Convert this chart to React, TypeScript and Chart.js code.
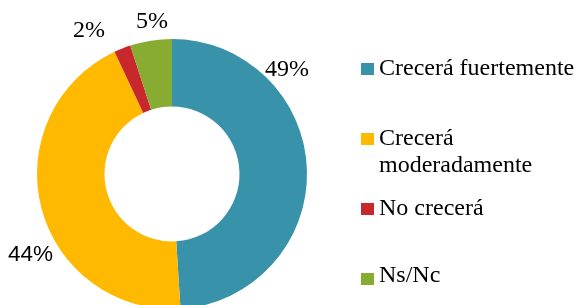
import React, { useEffect, useRef } from "react";
import { Chart, registerables } from "chart.js";

Chart.register(...registerables);

const categories = ["Crecerá fuertemente", "Crecerá moderadamente", "No crecerá", "Ns/Nc"];
const values = [49, 44, 2, 5];
const valueLabels = ["49%", "44%", "2%", "5%"];
const colors = ["#3892A9", "#FFB900", "#C8282C", "#88AC32"];

const SERIF = '"Liberation Serif", "Times New Roman", serif';
const SANS = '"Liberation Sans", Arial, sans-serif';

// label placement (left, top) and font
const labelPos = [
  { left: 265, top: 55.4, font: SERIF, size: 24, lh: 27 },
  { left: 8, top: 241.2, font: SANS, size: 22.5, lh: 26 },
  { left: 73, top: 16.4, font: SERIF, size: 24, lh: 27 },
  { left: 136, top: 7.4, font: SERIF, size: 24, lh: 27 },
];

const legendItems = [
  { lines: ["Crecerá fuertemente"], top: 54.1, sq: 63 },
  { lines: ["Crecerá", "moderadamente"], top: 124.1, sq: 133 },
  { lines: ["No crecerá"], top: 194.4, sq: 202.5 },
  { lines: ["Ns/Nc"], top: 261.1, sq: 272.5 },
];

export default function App() {
  const ref = useRef<HTMLCanvasElement | null>(null);

  useEffect(() => {
    if (!ref.current) return;
    const chart = new Chart(ref.current, {
      type: "doughnut",
      data: {
        labels: categories,
        datasets: [
          {
            data: values,
            backgroundColor: colors,
            borderWidth: 0,
            hoverOffset: 0,
          },
        ],
      },
      options: {
        responsive: false,
        animation: false,
        cutout: "50%",
        rotation: 0,
        layout: { padding: { left: 37, right: 269, top: 39, bottom: 11 } },
        plugins: {
          legend: { display: false },
          tooltip: { enabled: false },
        },
      },
    });
    return () => chart.destroy();
  }, []);

  return (
    <div
      style={{
        position: "fixed",
        left: 0,
        top: 0,
        width: 576,
        height: 305,
        overflow: "hidden",
        background: "#fff",
      }}
    >
      <canvas
        ref={ref}
        width={576}
        height={320}
        style={{ position: "absolute", left: 0, top: 0, width: 576, height: 320 }}
      />
      {valueLabels.map((t, i) => (
        <div
          key={"l" + i}
          style={{
            position: "absolute",
            left: labelPos[i].left,
            top: labelPos[i].top,
            fontFamily: labelPos[i].font,
            fontSize: labelPos[i].size,
            lineHeight: labelPos[i].lh + "px",
            color: "#000",
            whiteSpace: "nowrap",
          }}
        >
          {t}
        </div>
      ))}
      {legendItems.map((it, i) => (
        <React.Fragment key={"g" + i}>
          <div
            style={{
              position: "absolute",
              left: 361,
              top: it.sq,
              width: 13,
              height: 12,
              background: colors[i],
            }}
          />
          <div
            style={{
              position: "absolute",
              left: 379,
              top: it.top,
              fontFamily: SERIF,
              fontSize: 24,
              lineHeight: "27px",
              color: "#000",
              whiteSpace: "nowrap",
            }}
          >
            {it.lines.map((ln, j) => (
              <div key={j}>{ln}</div>
            ))}
          </div>
        </React.Fragment>
      ))}
    </div>
  );
}
